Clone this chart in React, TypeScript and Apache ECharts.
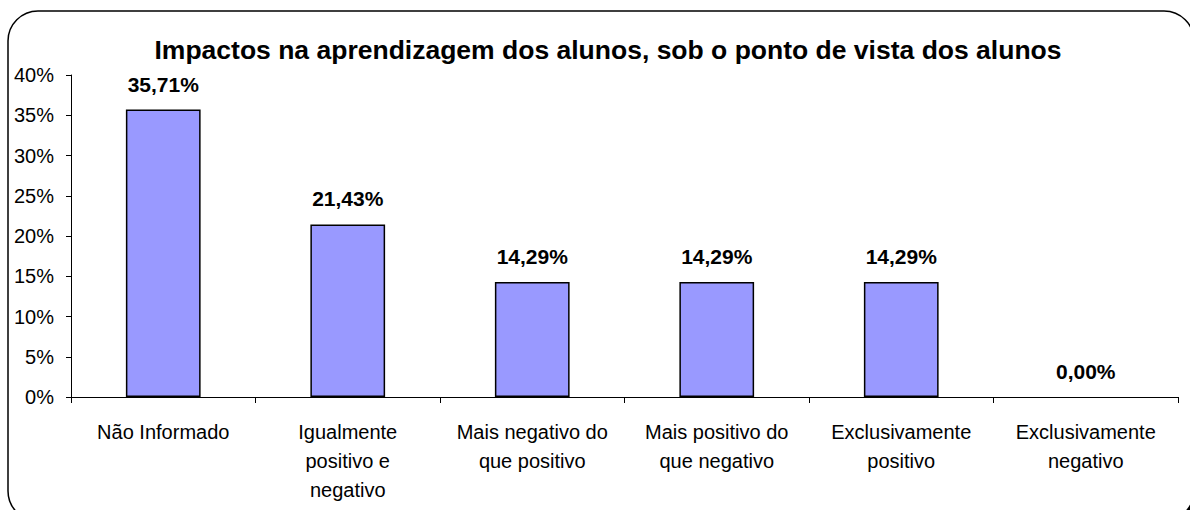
import React, { useEffect, useRef } from "react";
import * as echarts from "echarts";

const categories = [
  "Não Informado",
  "Igualmente positivo e negativo",
  "Mais negativo do que positivo",
  "Mais positivo do que negativo",
  "Exclusivamente positivo",
  "Exclusivamente negativo",
];
const categoryLabels = [
  "Não Informado",
  "Igualmente\npositivo e\nnegativo",
  "Mais negativo do\nque positivo",
  "Mais positivo do\nque negativo",
  "Exclusivamente\npositivo",
  "Exclusivamente\nnegativo",
];
const values = [35.71, 21.43, 14.29, 14.29, 14.29, 0.0];
const titleText = "Impactos na aprendizagem dos alunos, sob o ponto de vista dos alunos";

const FONT = "'Liberation Sans', Arial, sans-serif";

export default function App() {
  const ref = useRef<HTMLDivElement>(null);
  useEffect(() => {
    const chart = echarts.init(ref.current!, null, { renderer: "svg" });
    chart.setOption({
      animation: false,
      backgroundColor: "#ffffff",
      graphic: [
        {
          type: "rect",
          z: -10,
          silent: true,
          shape: { x: 11, y: 14, width: 1186, height: 510, r: 30 },
          style: { fill: "#000000" },
        },
        {
          type: "rect",
          z: -9,
          silent: true,
          shape: { x: 8, y: 11, width: 1186, height: 510, r: 30 },
          style: { fill: "#ffffff", stroke: "#000000", lineWidth: 1.5 },
        },
      ],
      title: {
        text: titleText,
        left: 603,
        textAlign: "center",
        top: 31,
        textStyle: { fontFamily: FONT, fontSize: 26.5, fontWeight: "bold", color: "#000" },
      },
      grid: { left: 71, right: 12, top: 75, bottom: 113, containLabel: false },
      xAxis: {
        type: "category",
        data: categories,
        axisLine: { lineStyle: { color: "#000", width: 1 } },
        axisTick: { show: true, alignWithLabel: false, length: 6, lineStyle: { color: "#000" } },
        axisLabel: {
          interval: 0,
          margin: 20,
          fontFamily: FONT,
          fontSize: 20,
          color: "#000",
          lineHeight: 29,
          formatter: (v: string) => categoryLabels[categories.indexOf(v)] ?? v,
        },
      },
      yAxis: {
        type: "value",
        min: 0,
        max: 40,
        interval: 5,
        axisLine: { show: true, lineStyle: { color: "#000", width: 1 } },
        axisTick: { show: true, length: 5, lineStyle: { color: "#000" } },
        splitLine: { show: false },
        axisLabel: {
          formatter: "{value}%",
          margin: 17,
          fontFamily: FONT,
          fontSize: 20,
          color: "#000",
        },
      },
      series: [
        {
          type: "bar",
          data: values.map((v) =>
            v === 0 ? { value: v, itemStyle: { borderWidth: 0 } } : v
          ),
          barWidth: "40.5%",
          itemStyle: { color: "#9999FF", borderColor: "#000", borderWidth: 1.5 },
          label: {
            show: true,
            position: "top",
            distance: 15,
            fontFamily: FONT,
            fontSize: 21,
            fontWeight: "bold",
            color: "#000",
            formatter: (p: any) => Number(p.value).toFixed(2).replace(".", ",") + "%",
          },
        },
      ],
    });
    return () => chart.dispose();
  }, []);
  return (
    <div
      ref={ref}
      style={{ position: "absolute", left: 0, top: 0, width: 1190, height: 510 }}
    />
  );
}
